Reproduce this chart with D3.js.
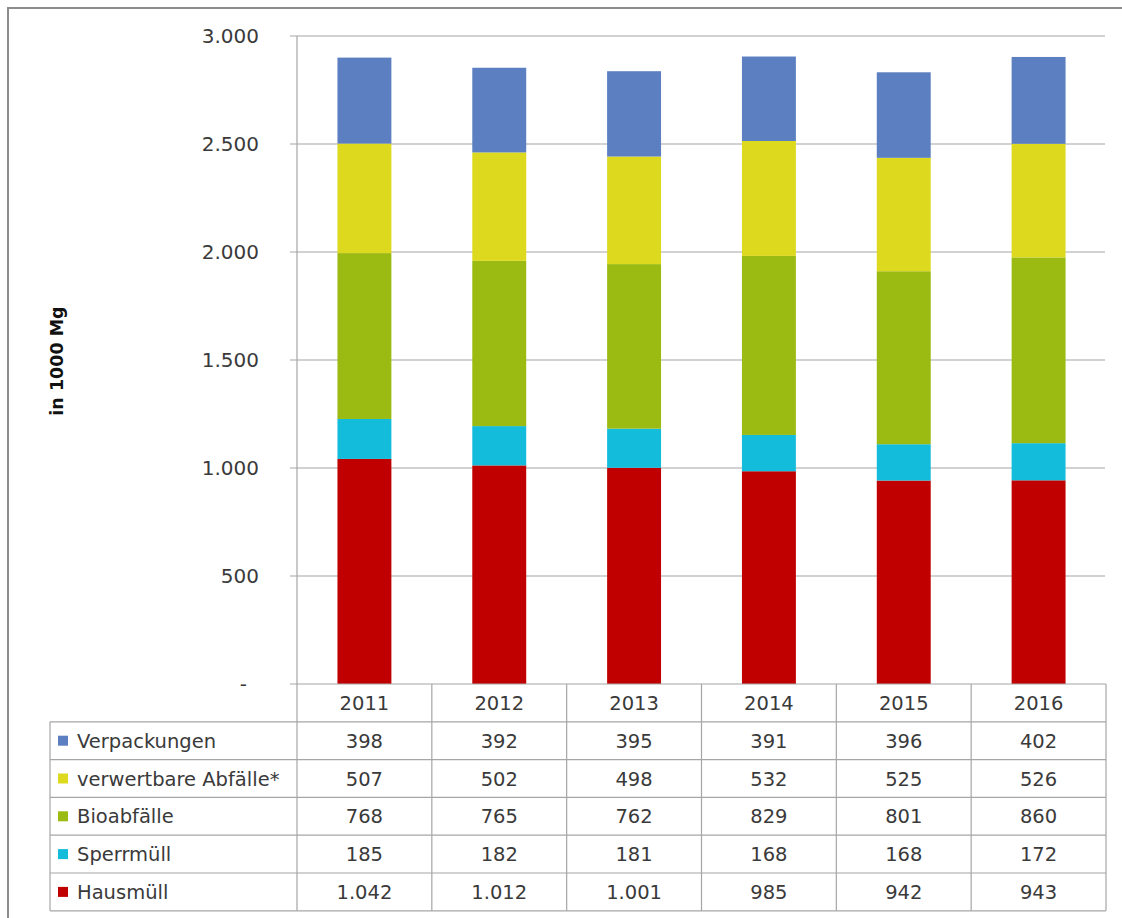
<!DOCTYPE html>
<html>
<head>
<meta charset="utf-8">
<script src="https://cdn.jsdelivr.net/npm/d3@7"></script>
<style>
  html, body { margin: 0; padding: 0; background: #ffffff; }
  svg { display: block; }
  text { font-family: "DejaVu Sans", "Open Sans", sans-serif; fill: #3a3a3a; }
</style>
</head>
<body>
<svg id="chart" width="1122" height="918"></svg>
<script>
// Waste amounts in 1000 Mg per year
const years = ["2011", "2012", "2013", "2014", "2015", "2016"];
const hausmuell = [1042, 1012, 1001, 985, 942, 943];
const sperrmuell = [185, 182, 181, 168, 168, 172];
const bioabfaelle = [768, 765, 762, 829, 801, 860];
const verwertbare = [507, 502, 498, 532, 525, 526];
const verpackungen = [398, 392, 395, 391, 396, 402];
const yTicks = [0, 500, 1000, 1500, 2000, 2500, 3000];

// Stack order bottom → top; table order top → bottom
const series = [
  { name: "Hausmüll", values: hausmuell, color: "#c00000" },
  { name: "Sperrmüll", values: sperrmuell, color: "#14bcdc" },
  { name: "Bioabfälle", values: bioabfaelle, color: "#9bbb12" },
  { name: "verwertbare Abfälle*", values: verwertbare, color: "#dcd91e" },
  { name: "Verpackungen", values: verpackungen, color: "#5b7fc1" }
];
const tableRows = series.slice().reverse();

const fmt = d3.formatLocale({ decimal: ",", thousands: ".", grouping: [3], currency: ["", "€"] }).format(",d");

const svg = d3.select("#chart");
const gridColor = "#a6a6a6";

const plot = { left: 297, right: 1106, top: 36, bottom: 684 };
const tableLeft = 50;
const rowH = 37.8;

const x = d3.scaleBand().domain(years).range([plot.left, plot.right]).paddingInner(0).paddingOuter(0);
const y = d3.scaleLinear().domain([0, 3000]).range([plot.bottom, plot.top]);

// Outer frame
svg.append("rect")
  .attr("x", 8).attr("y", 8).attr("width", 1130).attr("height", 930)
  .attr("fill", "none").attr("stroke", "#8c8c8c").attr("stroke-width", 2);

// Gridlines with small outward ticks
svg.append("g").selectAll("line").data(yTicks.filter(d => d > 0)).join("line")
  .attr("x1", plot.left - 7).attr("x2", plot.right - 1)
  .attr("y1", d => y(d)).attr("y2", d => y(d))
  .attr("stroke", gridColor).attr("stroke-width", 1.2);

// Y axis line
svg.append("line")
  .attr("x1", plot.left).attr("x2", plot.left)
  .attr("y1", plot.top).attr("y2", plot.bottom)
  .attr("stroke", gridColor).attr("stroke-width", 1.2);

// Tick labels
svg.append("g").selectAll("text").data(yTicks).join("text")
  .attr("y", d => y(d))
  .attr("dy", "0.36em")
  .attr("text-anchor", "end")
  .style("font-size", "20px")
  .text(d => d === 0 ? "-" : fmt(d))
  .attr("x", d => d === 0 ? 247 : 259);

// Axis title
svg.append("text")
  .attr("transform", "translate(63,361) rotate(-90)")
  .attr("text-anchor", "middle")
  .style("font-size", "17.5px").style("font-weight", "bold").style("fill", "#111")
  .text("in 1000 Mg");

// Stacked bars
const stackData = years.map((yr, i) => {
  const o = { year: yr };
  series.forEach(s => { o[s.name] = s.values[i]; });
  return o;
});
const stack = d3.stack().keys(series.map(s => s.name))(stackData);
const barW = x.bandwidth() * 0.4;

svg.append("g").selectAll("g").data(stack).join("g")
  .attr("fill", (d, i) => series[i].color)
  .selectAll("rect").data(d => d).join("rect")
  .attr("x", d => x(d.data.year) + (x.bandwidth() - barW) / 2)
  .attr("width", barW)
  .attr("y", d => y(d[1]))
  .attr("height", d => y(d[0]) - y(d[1]));

// Data table
const table = svg.append("g");
const tableTop = plot.bottom;
const headerBottom = tableTop + rowH;
const tableBottom = headerBottom + rowH * tableRows.length;

// Horizontal lines
table.append("line")
  .attr("x1", plot.left - 7).attr("x2", plot.right)
  .attr("y1", tableTop).attr("y2", tableTop)
  .attr("stroke", gridColor).attr("stroke-width", 1.2);
d3.range(tableRows.length + 1).forEach(k => {
  const yy = headerBottom + k * rowH;
  table.append("line")
    .attr("x1", tableLeft).attr("x2", plot.right)
    .attr("y1", yy).attr("y2", yy)
    .attr("stroke", gridColor).attr("stroke-width", 1.2);
});

// Vertical lines
d3.range(years.length + 1).forEach(i => {
  const xx = plot.left + i * x.bandwidth();
  table.append("line")
    .attr("x1", xx).attr("x2", xx)
    .attr("y1", tableTop).attr("y2", tableBottom)
    .attr("stroke", gridColor).attr("stroke-width", 1.2);
});
table.append("line")
  .attr("x1", tableLeft).attr("x2", tableLeft)
  .attr("y1", headerBottom).attr("y2", tableBottom)
  .attr("stroke", gridColor).attr("stroke-width", 1.2);

// Header years
table.selectAll("text.year").data(years).join("text")
  .attr("class", "year")
  .attr("x", d => x(d) + x.bandwidth() / 2)
  .attr("y", tableTop + rowH / 2)
  .attr("dy", "0.36em")
  .attr("text-anchor", "middle")
  .style("font-size", "19.5px")
  .text(d => d);

// Rows
tableRows.forEach((s, r) => {
  const cy = headerBottom + r * rowH + rowH / 2;
  table.append("rect")
    .attr("x", 58).attr("y", cy - 5).attr("width", 10).attr("height", 10)
    .attr("fill", s.color);
  table.append("text")
    .attr("x", 77).attr("y", cy).attr("dy", "0.36em")
    .style("font-size", "19.5px")
    .text(s.name);
  table.selectAll(null).data(s.values).join("text")
    .attr("x", (d, i) => x(years[i]) + x.bandwidth() / 2)
    .attr("y", cy).attr("dy", "0.36em")
    .attr("text-anchor", "middle")
    .style("font-size", "19.5px")
    .text(d => fmt(d));
});
</script>
</body>
</html>
